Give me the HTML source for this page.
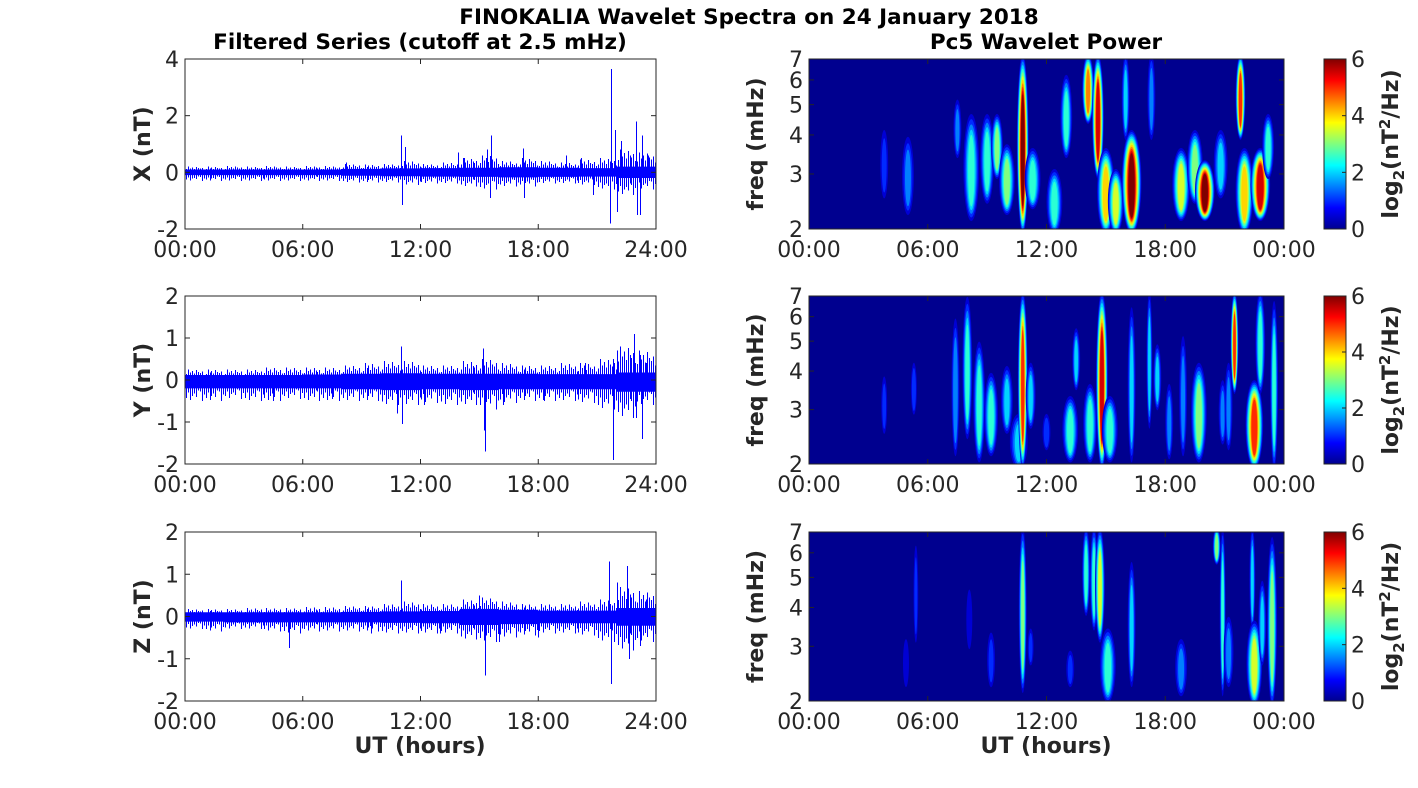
<!DOCTYPE html>
<html><head><meta charset="utf-8"><style>
html,body{margin:0;padding:0;background:#fff;}
svg{display:block;font-family:"DejaVu Sans","Liberation Sans",sans-serif;}
</style></head><body>
<svg id="fig" width="1418" height="788" viewBox="0 0 1418 788">
<defs>
<linearGradient id="jetg" x1="0" y1="1" x2="0" y2="0">
<stop offset="0" stop-color="#00008f"/><stop offset="0.125" stop-color="#0000ff"/><stop offset="0.375" stop-color="#00ffff"/>
<stop offset="0.625" stop-color="#ffff00"/><stop offset="0.875" stop-color="#ff0000"/><stop offset="1" stop-color="#800000"/>
</linearGradient>
</defs>
<text x="749" y="24" text-anchor="middle" font-size="21.5" font-weight="bold" fill="#000">FINOKALIA Wavelet Spectra on 24 January 2018</text>
<text x="420" y="49" text-anchor="middle" font-size="21.5" font-weight="bold" fill="#000">Filtered Series (cutoff at 2.5 mHz)</text>
<text x="1046" y="49" text-anchor="middle" font-size="21.5" font-weight="bold" fill="#000">Pc5 Wavelet Power</text>
</svg>
<script>
// ---- data ----
const timeTicks = [0, 6, 12, 18, 24];
const leftTickLabels = ["00:00", "06:00", "12:00", "18:00", "24:00"];
const rightTickLabels = ["00:00", "06:00", "12:00", "18:00", "00:00"];
const freqTicks = [2, 3, 4, 5, 6, 7];
const cbTicks = [0, 2, 4, 6];
const components = ["X", "Y", "Z"];
const yRanges = [[-2, 4], [-2, 2], [-2, 2]];
const yTickSets = [[-2, 0, 2, 4], [-2, -1, 0, 1, 2], [-2, -1, 0, 1, 2]];
// dense core band per 2-hour bin (hi, lo)
const bandHiX = [0.1,0.1,0.1,0.1,0.12,0.14,0.15,0.16,0.18,0.16,0.15,0.2];
const bandLoX = [-0.1,-0.1,-0.1,-0.1,-0.12,-0.14,-0.15,-0.16,-0.18,-0.16,-0.15,-0.2];
const bandHiY = [0.12,0.12,0.12,0.13,0.15,0.16,0.15,0.15,0.15,0.14,0.14,0.18];
const bandLoY = [-0.2,-0.2,-0.2,-0.2,-0.22,-0.24,-0.22,-0.24,-0.22,-0.22,-0.22,-0.28];
const bandHiZ = [0.1,0.1,0.1,0.1,0.11,0.12,0.13,0.18,0.16,0.14,0.14,0.2];
const bandLoZ = [-0.12,-0.14,-0.14,-0.14,-0.14,-0.15,-0.16,-0.2,-0.18,-0.16,-0.16,-0.22];
// hourly outer noise envelope (typical spike reach)
const noiseHiX = [0.2,0.2,0.22,0.2,0.22,0.2,0.22,0.22,0.3,0.28,0.3,0.4,0.3,0.35,0.5,0.6,0.4,0.5,0.4,0.35,0.45,0.5,0.8,0.7];
const noiseLoX = [-0.3,-0.3,-0.3,-0.3,-0.3,-0.3,-0.3,-0.3,-0.35,-0.35,-0.35,-0.45,-0.4,-0.4,-0.5,-0.6,-0.5,-0.5,-0.4,-0.4,-0.45,-0.6,-0.8,-0.6];
const noiseHiY = [0.25,0.25,0.25,0.25,0.3,0.3,0.3,0.3,0.35,0.4,0.45,0.45,0.35,0.35,0.45,0.5,0.4,0.35,0.35,0.4,0.4,0.5,0.8,0.7];
const noiseLoY = [-0.5,-0.5,-0.45,-0.5,-0.5,-0.45,-0.5,-0.5,-0.5,-0.5,-0.6,-0.6,-0.55,-0.6,-0.6,-0.7,-0.55,-0.5,-0.5,-0.5,-0.55,-0.7,-0.9,-0.6];
const noiseHiZ = [0.18,0.18,0.18,0.2,0.2,0.2,0.22,0.22,0.25,0.25,0.3,0.35,0.3,0.3,0.4,0.45,0.35,0.3,0.3,0.3,0.35,0.4,0.7,0.6];
const noiseLoZ = [-0.3,-0.35,-0.3,-0.3,-0.35,-0.4,-0.35,-0.35,-0.35,-0.35,-0.4,-0.4,-0.4,-0.4,-0.55,-0.6,-0.5,-0.45,-0.4,-0.4,-0.45,-0.6,-0.8,-0.6];
// distinct spikes [time h, value nT]
const spikesX = [[11.0,1.3],[11.05,-1.15],[11.2,0.9],[8.2,0.35],[13.9,0.7],[14.2,0.5],[15.4,0.8],[15.6,1.3],[15.55,-0.9],[17.2,0.85],[17.25,-0.9],[19.4,0.6],[20.2,0.5],[20.8,-0.8],[21.7,3.65],[21.65,-1.8],[21.9,1.5],[22.0,-1.4],[22.2,1.1],[23.0,1.8],[23.05,-1.5],[23.2,-1.5],[23.3,1.3],[23.6,0.6]];
const spikesY = [[4.5,-0.5],[7.5,-0.45],[11.0,0.8],[11.05,-1.05],[10.8,-0.8],[12.2,-0.6],[15.2,0.75],[15.3,-1.7],[15.25,-1.2],[16.2,-0.6],[18.3,-0.5],[20.4,0.4],[21.8,-1.9],[21.8,0.5],[22.0,0.7],[22.9,1.1],[23.0,-0.9],[23.2,0.6],[23.3,-1.4],[23.5,0.4]];
const spikesZ = [[5.3,-0.75],[9.5,-0.4],[11.0,0.85],[13.0,-0.4],[15.0,0.5],[15.3,-1.4],[16.0,-0.6],[18.0,-0.5],[21.6,1.3],[21.7,-1.6],[22.0,0.8],[22.5,1.2],[22.6,-1.0],[23.2,-0.7],[23.5,0.4]];
// wavelet events: [time h, fLow mHz, fHigh mHz, peak log2 power, half-width h]
const eventsX = [[3.8,2.6,4,1,0.2],[5.0,2.3,3.8,1.5,0.3],[7.5,3.5,5,1.5,0.2],[8.2,2.2,4.5,2.5,0.4],[9.0,2.5,4.5,2.5,0.35],[9.5,3,4.5,3,0.3],[10.0,2.3,3.6,3,0.4],[10.8,2,7,6,0.3],[11.3,2.4,3.5,2.5,0.4],[12.4,2,3,2.5,0.4],[13.0,3.5,6,2.5,0.3],[14.1,4.5,7,4.5,0.3],[14.6,3,7,5.5,0.3],[15.0,2,3.5,4,0.45],[15.5,2,3,3.5,0.4],[16.0,4,7,2,0.2],[16.3,2,4,6,0.5],[17.3,4,7,1.5,0.2],[18.8,2.2,3.5,3.5,0.45],[19.5,2.5,4,3,0.4],[20.0,2.2,3.2,6,0.5],[20.8,2.6,4,2,0.35],[21.8,4,7,5,0.25],[22.0,2,3.5,4,0.45],[22.8,2.2,3.5,5.5,0.5],[23.2,3,4.5,2.5,0.3]];
const eventsY = [[3.8,2.6,3.7,1,0.15],[5.3,3,4.1,1.2,0.15],[7.4,2.2,5.7,1.8,0.2],[8.0,2.5,6.7,2.5,0.25],[8.6,2.1,4.8,2.5,0.3],[9.2,2.2,3.8,2.5,0.35],[10.0,2.6,4,2,0.3],[10.6,2,2.8,2,0.45],[10.8,2,7,5,0.25],[11.2,2.7,4.1,2,0.25],[12.0,2.3,2.8,1.2,0.2],[13.2,2.1,3.2,2.5,0.4],[13.5,3.6,5.3,2,0.2],[14.2,2.1,3.5,2.5,0.35],[14.8,2,7,5.5,0.3],[15.2,2.1,3.2,2.5,0.4],[16.3,2.1,6.2,2,0.2],[17.2,2.7,7,2,0.15],[17.6,3.1,4.7,2,0.2],[18.2,2.15,3.5,1.5,0.2],[18.9,2.2,5,1.5,0.2],[19.7,2.1,4.1,3,0.4],[20.9,2.4,3.6,1.5,0.2],[21.5,3.5,7,5,0.2],[21.2,2.3,4.1,1.5,0.2],[22.5,2,3.6,5,0.45],[22.8,3.5,7,2.5,0.25],[23.5,2,6.5,2.5,0.2]];
const eventsZ = [[5.4,3.2,6.1,1,0.12],[4.9,2.3,3.05,0.8,0.15],[8.1,3.05,4.4,0.8,0.15],[9.2,2.3,3.2,1,0.2],[10.8,2.2,7,3,0.2],[11.2,2.7,3.3,1,0.15],[13.2,2.3,2.8,1,0.2],[14.0,3.9,7,2.5,0.2],[14.4,3.5,7,2.5,0.2],[14.7,3.2,7,3.5,0.25],[15.1,2.05,3.3,2.5,0.4],[16.3,2.3,5.4,2,0.2],[18.8,2.15,3.05,1.5,0.3],[20.6,5.7,7,3,0.2],[20.9,2.15,7,2.5,0.15],[21.2,2.3,3.6,1.5,0.25],[22.4,3.5,7,2,0.15],[22.5,2,3.5,3.5,0.4],[22.9,2.7,4.7,2,0.2],[23.4,2,6.5,3,0.25]];

// ---- layout ----
const NS = "http://www.w3.org/2000/svg";
const svg = document.getElementById('fig');
const L = {x0:185, x1:656};
const R = {x0:809, x1:1284};
const rows = [{y0:59,y1:229},{y0:296,y1:464},{y0:532,y1:701}];
const CB = {x0:1324, x1:1346};
const TXT = "#262626";
const FS = 22;
function mk(tag, attrs, parent){ const e=document.createElementNS(NS,tag); for(const k in attrs) e.setAttribute(k,attrs[k]); (parent||svg).appendChild(e); return e; }
function jet(v){ v=Math.max(0,Math.min(1,v));
  const r=Math.max(0,Math.min(1,Math.min(4*v-1.5,-4*v+4.5)));
  const g=Math.max(0,Math.min(1,Math.min(4*v-0.5,-4*v+3.5)));
  const b=Math.max(0,Math.min(1,Math.min(4*v+0.5,-4*v+2.5)));
  return `rgb(${Math.round(r*255)},${Math.round(g*255)},${Math.round(b*255)})`; }
const bands = [[bandHiX,bandLoX],[bandHiY,bandLoY],[bandHiZ,bandLoZ]];
const noises = [[noiseHiX,noiseLoX],[noiseHiY,noiseLoY],[noiseHiZ,noiseLoZ]];
const spikes = [spikesX,spikesY,spikesZ];
const events = [eventsX,eventsY,eventsZ];
const combFrac = [0.55,1.0,0.7,0.85,0.6,0.95,0.75,0.65,0.8,0.5];

rows.forEach((row,i)=>{
  const xs = t=>L.x0+(t/24)*(L.x1-L.x0);
  const [ymin,ymax]=yRanges[i];
  const ys = v=>row.y1-(v-ymin)/(ymax-ymin)*(row.y1-row.y0);
  const g = mk('g',{});
  
  
  const [hi,lo]=bands[i];
  let pts=[];
  hi.forEach((v,k)=>{ pts.push(xs(k*2)+','+ys(v)); pts.push(xs(k*2+2)+','+ys(v)); });
  for(let k=lo.length-1;k>=0;k--){ pts.push(xs(k*2+2)+','+ys(lo[k])); pts.push(xs(k*2)+','+ys(lo[k])); }
  const band = mk('polygon',{points:pts.join(' '),fill:'#0000ff'},g);
  
  
  const [nh,nl]=noises[i];
  let d='';
  nh.forEach((v,h)=>{
    combFrac.forEach((fr,j)=>{
      const t=h+(j+0.5)/combFrac.length;
      const x=(Math.round(xs(t))+0.5).toFixed(1);
      const up = v*fr, dn = nl[h]*combFrac[(j+3)%combFrac.length];
      d+=`M${x},${ys(up).toFixed(1)}V${ys(dn).toFixed(1)}`;
    });
  });
  const comb = mk('path',{d:d,stroke:'#0000ff','stroke-width':1,fill:'none','shape-rendering':'crispEdges'},g);
  
  
  spikes[i].forEach(s=>{
    const sx=Math.round(xs(s[0]))+0.5;
    const ln = mk('line',{x1:sx,x2:sx,y1:ys(0),y2:ys(s[1]),stroke:'#0000ff','stroke-width':1.3,'shape-rendering':'crispEdges'},g);
    
    
  });
  const box = mk('rect',{x:L.x0,y:row.y0,width:L.x1-L.x0,height:row.y1-row.y0,fill:'none',stroke:TXT,'stroke-width':1},g);
  
  
  timeTicks.forEach((t,k)=>{
    mk('line',{x1:xs(t),x2:xs(t),y1:row.y1,y2:row.y1-5,stroke:TXT},g);
    mk('line',{x1:xs(t),x2:xs(t),y1:row.y0,y2:row.y0+5,stroke:TXT},g);
    const tx = mk('text',{x:xs(t),y:row.y1+28,'text-anchor':'middle','font-size':FS,fill:TXT},g);
    tx.textContent=leftTickLabels[k];
    
    
  });
  yTickSets[i].forEach(v=>{
    mk('line',{x1:L.x0,x2:L.x0+5,y1:ys(v),y2:ys(v),stroke:TXT},g);
    mk('line',{x1:L.x1,x2:L.x1-5,y1:ys(v),y2:ys(v),stroke:TXT},g);
    const tx = mk('text',{x:L.x0-6,y:ys(v)+8,'text-anchor':'end','font-size':FS,fill:TXT},g);
    tx.textContent=String(v);
    
    
  });
  const yl = mk('text',{x:0,y:0,transform:`translate(150,${(row.y0+row.y1)/2}) rotate(-90)`,'text-anchor':'middle','font-size':FS,'font-weight':'bold',fill:TXT},g);
  yl.textContent=components[i]+' (nT)';
  
  

  // ---- wavelet panel ----
  const xr = t=>R.x0+(t/24)*(R.x1-R.x0);
  const fy = f=>row.y1-Math.log(f/2)/Math.log(3.5)*(row.y1-row.y0);
  const wg = mk('g',{});
  
  
  const cid='clip'+i;
  const cp = mk('clipPath',{id:cid},wg);
  mk('rect',{x:R.x0,y:row.y0,width:R.x1-R.x0,height:row.y1-row.y0},cp);
  const inner = mk('g',{'clip-path':`url(#${cid})`},wg);
  mk('rect',{x:R.x0,y:row.y0,width:R.x1-R.x0,height:row.y1-row.y0,fill:'#00008f'},inner);
  events[i].forEach(ev=>{
    const [t,f0,f1,p,hw]=ev;
    const cx=xr(t), ya=fy(f1), yb=fy(f0);
    const cy=(ya+yb)/2, ry=(yb-ya)/2+5, rx=hw/24*(R.x1-R.x0);
    for(let k=0.5;k<=p+0.01;k+=0.5){
      const s=1-0.75*(k-0.5)/p;
      const el = mk('ellipse',{cx:cx,cy:cy+(1-s)*ry*0.1,rx:Math.max(1,rx*s),ry:ry*(0.45+0.55*s),fill:jet(k/6)},inner);
      
      
    }
  });
  mk('rect',{x:R.x0,y:row.y0,width:R.x1-R.x0,height:row.y1-row.y0,fill:'none',stroke:TXT},wg);
  timeTicks.forEach((t,k)=>{
    mk('line',{x1:xr(t),x2:xr(t),y1:row.y1,y2:row.y1-5,stroke:TXT},wg);
    mk('line',{x1:xr(t),x2:xr(t),y1:row.y0,y2:row.y0+5,stroke:TXT},wg);
    const tx = mk('text',{x:xr(t),y:row.y1+28,'text-anchor':'middle','font-size':FS,fill:TXT},wg);
    tx.textContent=rightTickLabels[k];
    
    
  });
  freqTicks.forEach(f=>{
    mk('line',{x1:R.x0,x2:R.x0+5,y1:fy(f),y2:fy(f),stroke:TXT},wg);
    mk('line',{x1:R.x1,x2:R.x1-5,y1:fy(f),y2:fy(f),stroke:TXT},wg);
    const tx = mk('text',{x:R.x0-6,y:fy(f)+8,'text-anchor':'end','font-size':FS,fill:TXT},wg);
    tx.textContent=String(f);
    
    
  });
  const fl = mk('text',{x:0,y:0,transform:`translate(763,${(row.y0+row.y1)/2}) rotate(-90)`,'text-anchor':'middle','font-size':FS,'font-weight':'bold',fill:TXT},wg);
  fl.textContent='freq (mHz)';
  
  
  const cb = mk('rect',{x:CB.x0,y:row.y0,width:CB.x1-CB.x0,height:row.y1-row.y0,fill:'url(#jetg)',stroke:TXT},wg);
  
  
  const cy = v=>row.y1-v/6*(row.y1-row.y0);
  cbTicks.forEach(v=>{
    mk('line',{x1:CB.x1,x2:CB.x1-4,y1:cy(v),y2:cy(v),stroke:TXT},wg);
    const tx = mk('text',{x:CB.x1+5,y:cy(v)+8,'font-size':FS,fill:TXT},wg);
    tx.textContent=String(v);
    
    
  });
  const cl = mk('text',{x:0,y:0,transform:`translate(1398,${(row.y0+row.y1)/2}) rotate(-90)`,'text-anchor':'middle','font-size':FS,'font-weight':'bold',fill:TXT},wg);
  cl.innerHTML='log<tspan font-size="15" dy="6">2</tspan><tspan dy="-6">(nT</tspan><tspan font-size="15" dy="-8">2</tspan><tspan dy="8">/Hz)</tspan>';
  
  
});
const t1 = mk('text',{x:420,y:753,'text-anchor':'middle','font-size':FS,'font-weight':'bold',fill:TXT});
t1.textContent='UT (hours)';


const t2 = mk('text',{x:1046,y:753,'text-anchor':'middle','font-size':FS,'font-weight':'bold',fill:TXT});
t2.textContent='UT (hours)';


</script>
</body></html>
